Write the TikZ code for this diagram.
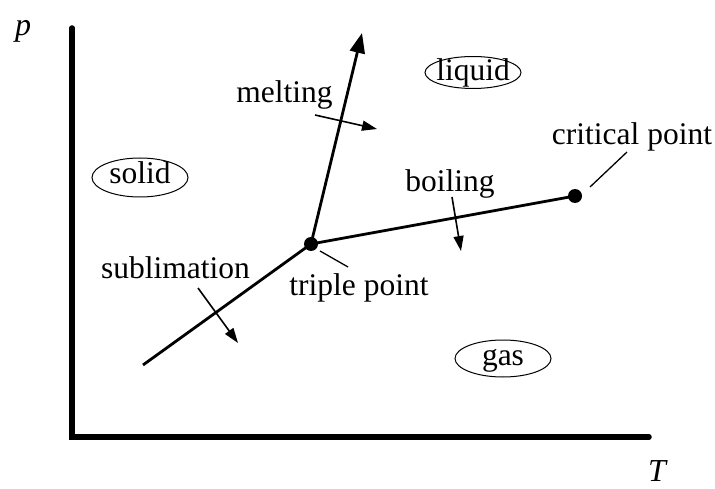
\documentclass[tikz,border=0pt]{standalone}
\usepackage{fontspec}
\setmainfont{Liberation Serif}
\usetikzlibrary{arrows.meta}
\begin{document}
\begin{tikzpicture}[x=1pt,y=-1pt,
  lbl/.style={font=\fontsize{31.5}{33}\selectfont, inner sep=0pt, anchor=base},
  axisline/.style={line width=5.5pt, line cap=round, line join=miter},
  bound/.style={line width=2.8pt},
  dir/.style={line width=1.6pt, -{Triangle[length=15pt,width=10pt]}},
  leader/.style={line width=1.3pt},
  dot/.style={circle, fill, inner sep=0pt}]
\useasboundingbox (0,0) rectangle (715,489);
% axes
\coordinate (ytop) at (72,28);
\coordinate (orig) at (72,437);
\coordinate (xend) at (649,437);
\draw[axisline] (ytop) -- (orig) -- (xend);
\node[lbl, font=\fontsize{32}{33}\selectfont\itshape] (plab) at (23,36) {p};
\node[lbl, font=\fontsize{32}{33}\selectfont\itshape] (tlab) at (657,481) {T};
% points
\node[dot, minimum size=14pt] (tp) at (311,244) {};
\node[dot, minimum size=14pt] (cp) at (575,196) {};
\coordinate (meltend) at (362,33);
\coordinate (sublend) at (143,365);
% phase boundaries
\draw[bound, -{Triangle[length=20pt,width=15pt]}] (tp.center) -- (meltend);
\draw[bound] (tp.center) -- (cp.center);
\draw[bound] (tp.center) -- (sublend);
% direction arrows
\coordinate (m1) at (315,115); \coordinate (m2) at (377,129);
\coordinate (b1) at (452,197); \coordinate (b2) at (461,251);
\coordinate (s1) at (198,288); \coordinate (s2) at (238,343);
\draw[dir] (m1) -- (m2);
\draw[dir] (b1) -- (b2);
\draw[dir] (s1) -- (s2);
% leaders
\coordinate (tl) at (348,267);
\coordinate (cl) at (627,152);
\draw[leader] (320,251) -- (tl);
\draw[leader] (590,187) -- (cl);
% labels
\node[lbl] (melt) at (284.5,103) {melting};
\node[lbl] (boil) at (450,192) {boiling};
\node[lbl] (subl) at (175.5,279) {sublimation};
\node[lbl] (trip) at (359,295) {triple point};
\node[lbl] (crit) at (632,145) {critical point};
% phase ellipses
\draw[line width=1pt] (140,177.5) ellipse [x radius=48, y radius=19.5];
\node[lbl] (solid) at (140,184) {solid};
\draw[line width=1pt] (473,72.5) ellipse [x radius=48, y radius=16];
\node[lbl] (liquid) at (473,81) {liquid};
\draw[line width=1pt] (503,358.5) ellipse [x radius=48, y radius=18.5];
\node[lbl] (gas) at (503,365) {gas};
\end{tikzpicture}
\end{document}
